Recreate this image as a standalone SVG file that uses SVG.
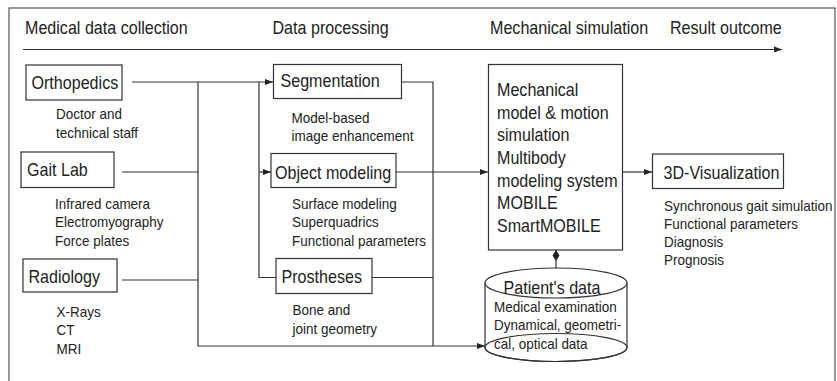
<svg xmlns="http://www.w3.org/2000/svg" width="837" height="381" viewBox="0 0 837 381">
<defs>
<style>
text{font-family:"Liberation Sans",Arial,sans-serif;fill:#222}
.b{font-size:17.5px}
.s{font-size:14.2px}
.box{fill:#fff;stroke:#333;stroke-width:1.2}
.ln{fill:none;stroke:#333;stroke-width:1.2}
</style>
<marker id="arr" markerUnits="userSpaceOnUse" markerWidth="9" markerHeight="8" refX="8" refY="4" orient="auto">
<path d="M0,1 L8,4 L0,7 Z" fill="#222"/>
</marker>
<marker id="dia" markerUnits="userSpaceOnUse" markerWidth="12" markerHeight="10" refX="0" refY="5" orient="auto">
<path d="M0,5 L5.5,1.5 L11,5 L5.5,8.5 Z" fill="#222"/>
</marker>
</defs>
<rect x="9" y="8" width="826" height="420" fill="none" stroke="#555" stroke-width="1.2"/>

<g id="header">
<text class="b" transform="translate(25 34) scale(0.92 1)">Medical data collection</text>
<text class="b" transform="translate(272.5 34) scale(0.92 1)">Data processing</text>
<text class="b" transform="translate(490 34) scale(0.92 1)">Mechanical simulation</text>
<text class="b" transform="translate(670 34) scale(0.92 1)">Result outcome</text>
</g>

<g id="connectors">
<path class="ln" d="M23,49.5 H782" marker-end="url(#arr)"/>
<path class="ln" d="M132,82 H273" marker-end="url(#arr)"/>
<path class="ln" d="M122,172 H198"/>
<path class="ln" d="M122,280 H198"/>
<path class="ln" d="M198,82 V346 H485" marker-end="url(#arr)"/>
<path class="ln" d="M259,82 V277.5 H276"/>
<path class="ln" d="M259,172 H271" marker-end="url(#arr)"/>
<path class="ln" d="M402,82 H433 V346"/>
<path class="ln" d="M372,277.5 H433"/>
<path class="ln" d="M396,172 H488" marker-end="url(#arr)"/>
<path class="ln" d="M623,172 H652" marker-end="url(#arr)"/>
<path class="ln" d="M556,250 V268" marker-start="url(#dia)"/>
</g>

<g id="orthopedics">
<rect class="box" x="26" y="65" width="96" height="35"/>
<text class="b" transform="translate(31.5 89) scale(0.92 1)">Orthopedics</text>
<text class="s" transform="translate(56 119) scale(0.95 1)">Doctor and</text>
<text class="s" transform="translate(56 138) scale(0.95 1)">technical staff</text>
</g>

<g id="gaitlab">
<rect class="box" x="21" y="152" width="93" height="35.5"/>
<text class="b" transform="translate(27 176) scale(0.92 1)">Gait Lab</text>
<text class="s" transform="translate(55 208.5) scale(0.95 1)">Infrared camera</text>
<text class="s" transform="translate(55 227) scale(0.95 1)">Electromyography</text>
<text class="s" transform="translate(55 245.5) scale(0.95 1)">Force plates</text>
</g>

<g id="radiology">
<rect class="box" x="23" y="259" width="94" height="33"/>
<text class="b" transform="translate(28.5 283) scale(0.92 1)">Radiology</text>
<text class="s" transform="translate(56.5 316.5) scale(0.95 1)">X-Rays</text>
<text class="s" transform="translate(56.5 335) scale(0.95 1)">CT</text>
<text class="s" transform="translate(56.5 354) scale(0.95 1)">MRI</text>
</g>

<g id="segmentation">
<rect class="box" x="273.5" y="64.5" width="128" height="34"/>
<text class="b" transform="translate(280.5 87) scale(0.92 1)">Segmentation</text>
<text class="s" transform="translate(291.5 122.5) scale(0.95 1)">Model-based</text>
<text class="s" transform="translate(291.5 141) scale(0.95 1)">image enhancement</text>
</g>

<g id="objectmodeling">
<rect class="box" x="271" y="153.5" width="125" height="34"/>
<text class="b" transform="translate(275 178.5) scale(0.92 1)">Object modeling</text>
<text class="s" transform="translate(292 208.5) scale(0.95 1)">Surface modeling</text>
<text class="s" transform="translate(292 227) scale(0.95 1)">Superquadrics</text>
<text class="s" transform="translate(292 245.5) scale(0.95 1)">Functional parameters</text>
</g>

<g id="prostheses">
<rect class="box" x="276" y="258.5" width="96" height="35"/>
<text class="b" transform="translate(281.5 283) scale(0.92 1)">Prostheses</text>
<text class="s" transform="translate(292.5 315) scale(0.95 1)">Bone and</text>
<text class="s" transform="translate(292.5 333.5) scale(0.95 1)">joint geometry</text>
</g>

<g id="mechanical">
<rect class="box" x="488.5" y="64.5" width="134" height="185.5"/>
<text class="b" transform="translate(497 96) scale(0.92 1)">Mechanical</text>
<text class="b" transform="translate(497 118.5) scale(0.92 1)">model &amp; motion</text>
<text class="b" transform="translate(497 141) scale(0.92 1)">simulation</text>
<text class="b" transform="translate(497 163.5) scale(0.92 1)">Multibody</text>
<text class="b" transform="translate(497 186.5) scale(0.92 1)">modeling system</text>
<text class="b" transform="translate(497 209) scale(0.92 1)">MOBILE</text>
<text class="b" transform="translate(497 232) scale(0.92 1)">SmartMOBILE</text>
</g>

<g id="patientsdata">
<path class="box" d="M485,283 V347.5 A71,14 0 0 0 627,347.5 V283"/>
<ellipse class="ln" cx="556" cy="347.5" rx="71" ry="14"/>
<ellipse class="box" cx="556" cy="283" rx="71" ry="15"/>
<text class="b" transform="translate(503.5 294) scale(0.92 1)">Patient's data</text>
<text class="s" transform="translate(494 311.5) scale(0.95 1)">Medical examination</text>
<text class="s" transform="translate(494 330) scale(0.95 1)">Dynamical, geometri-</text>
<text class="s" transform="translate(494 349) scale(0.95 1)">cal, optical data</text>
</g>

<g id="visualization">
<rect class="box" x="652.5" y="154" width="131" height="34.5"/>
<text class="b" transform="translate(663.5 179) scale(0.92 1)">3D-Visualization</text>
<text class="s" transform="translate(664 211) scale(0.95 1)">Synchronous gait simulation</text>
<text class="s" transform="translate(664 229) scale(0.95 1)">Functional parameters</text>
<text class="s" transform="translate(664 247) scale(0.95 1)">Diagnosis</text>
<text class="s" transform="translate(664 265) scale(0.95 1)">Prognosis</text>
</g>
</svg>
